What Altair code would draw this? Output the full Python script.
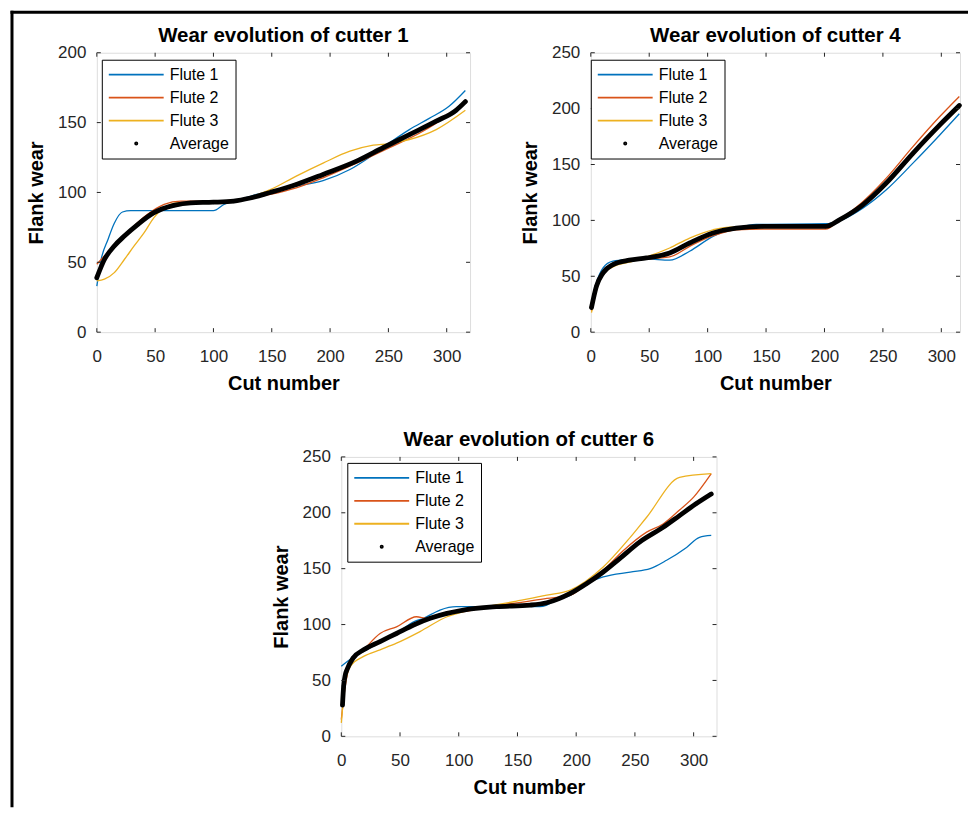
import altair as alt
import pandas as pd

SERIES = ["Flute 1", "Flute 2", "Flute 3", "Average"]
COLORS = ["#0072BD", "#D95319", "#EDB120", "#000000"]
XTICKS = [0, 50, 100, 150, 200, 250, 300]
FONT = "Liberation Sans"

# ---- cutter 1 ----
c1_f1_x = [0, 3.7, 9.4, 15, 22, 29, 100, 109, 123, 137, 149, 171, 194, 217, 237, 251, 268, 285, 302, 316]
c1_f1_y = [33, 52, 66, 78, 86, 87, 87, 91.4, 95, 98.6, 101, 104.5, 108.5, 116.4, 127, 135.5, 145, 153, 161.7, 173]
c1_f2_x = [0, 6.5, 18, 29, 43.5, 57.7, 72, 100, 123, 148.7, 171, 194, 222.7, 251, 279.6, 302, 316]
c1_f2_y = [48.6, 54.5, 64, 73.6, 84.3, 91.4, 93.8, 93.8, 95, 98.6, 103.3, 110.5, 121, 132, 143.8, 155.7, 164]
c1_f3_x = [0, 6.5, 15, 23.6, 32, 40.6, 49, 57.7, 69, 100, 123, 148.7, 171, 194, 217, 237, 251, 268, 291, 316]
c1_f3_y = [36.7, 37.9, 42.6, 52, 61.7, 71.2, 82, 89, 92.6, 93.3, 95, 102, 111.7, 121, 129.5, 133.8, 135, 137.9, 145, 158.8]
c1_av_x = [0, 6.5, 15, 23.6, 35, 49, 66, 80.5, 100, 117.4, 131.6, 148.7, 171, 194, 222.7, 245.4, 268, 291, 308, 316]
c1_av_y = [39, 52, 61.7, 68.8, 77, 85.5, 90.7, 92.6, 93, 93.8, 96, 100, 105.7, 112.9, 122.4, 132, 141.4, 151, 158.8, 165]

# ---- cutter 4 ----
c4_f1_x = [0.6, 4.8, 10.5, 19, 33, 47.6, 67.5, 84.6, 104.6, 124.5, 141.6, 201, 212.8, 232.8, 252.7, 275.5, 298.3, 315.4]
c4_f1_y = [26.4, 44, 57.5, 63.5, 65, 65.5, 64.4, 72.4, 85.7, 93.1, 96.4, 97, 99.6, 111, 127.2, 151, 176, 195.4]
c4_f2_x = [0.6, 4.8, 10.5, 19, 33, 47.6, 67.5, 84.6, 104.6, 124.5, 147, 201, 212.8, 232.8, 252.7, 275.5, 298.3, 315.4]
c4_f2_y = [19, 41, 54.6, 60.5, 65, 65.5, 67.3, 76.8, 86.3, 91.6, 92.2, 92.2, 100.5, 116.8, 137.6, 165.8, 192.5, 210.9]
c4_f3_x = [0.6, 4.8, 10.5, 19, 33, 47.6, 67.5, 84.6, 104.6, 118.8, 201, 212.8, 232.8, 252.7, 275.5, 298.3, 315.4]
c4_f3_y = [17.5, 36.8, 51.6, 58.4, 62.6, 67.3, 75.3, 84.2, 91.6, 94, 94, 100, 113.9, 132.6, 159.3, 183.6, 200.8]
c4_av_x = [0.6, 4.8, 10.5, 19, 33, 47.6, 67.5, 84.6, 104.6, 124.5, 147, 201, 212.8, 232.8, 252.7, 275.5, 298.3, 315.4]
c4_av_y = [22, 41, 53, 60.5, 64.4, 66.4, 70.9, 79.8, 88.7, 93.1, 94.6, 94.6, 100.5, 113.9, 133.2, 159.8, 185, 202.8]

# ---- cutter 6 ----
c6_f1_x = [0, 4, 9, 19, 33, 47, 62, 70, 84, 98, 118, 146.5, 169, 175, 183, 195, 209, 223, 246, 263, 277, 294, 305, 315]
c6_f1_y = [62.6, 66, 70, 76, 84, 92, 102.6, 105.6, 113, 116, 116, 116.5, 116, 117.4, 122, 126, 136.7, 142.6, 147, 150, 157.5, 169, 178, 179.7]
c6_f2_x = [0, 3.4, 7.7, 19, 33, 47, 64, 73, 90, 104, 124, 146.5, 175, 195, 209, 226, 240, 260, 274, 288, 300, 315]
c6_f2_y = [15, 45, 65.5, 77.4, 92, 98, 107, 105.6, 110, 111.5, 116, 119, 123.4, 126.3, 136.7, 151.5, 166, 182.7, 190, 202.5, 214, 235]
c6_f3_x = [0, 3.4, 7.7, 19, 33, 47, 67, 90, 104, 146.5, 175, 195, 223, 246, 260, 288, 315]
c6_f3_y = [12, 48, 62.6, 71.5, 77.4, 83.3, 93.7, 107, 111.5, 120.4, 126.3, 130.8, 151.5, 178, 196, 231.6, 235]
c6_av_x = [1, 2, 3.4, 5, 10, 19, 33, 47, 61.5, 75.7, 90, 104, 132, 160.7, 175, 195, 209, 223, 237, 254, 274, 288, 302, 315]
c6_av_y = [28, 45, 55, 60, 70, 77.4, 84.8, 92, 99.6, 105.6, 110, 113, 116, 117.4, 119.5, 127.8, 136.7, 147, 159, 173.8, 187, 197.5, 208, 216.8]


def make_df(xs_list, ys_list):
    rows = []
    for name, xs, ys in zip(SERIES, xs_list, ys_list):
        for x, y in zip(xs, ys):
            rows.append({"series": name, "cut": x, "wear": y})
    return pd.DataFrame(rows)


def panel(df, title, xmax, ymax, yticks, lx, ly, width):
    height = 280
    legend = alt.Legend(
        orient="none", legendX=lx, legendY=ly, title=None,
        fillColor="white", strokeColor="#000000", padding=6,
        labelFont=FONT, labelFontSize=16, labelColor="#000000", labelOffset=5,
        symbolStrokeWidth=1.8, symbolFillColor="#000000", symbolOpacity=1,
        rowPadding=5, clipHeight=18, labelLimit=300,
    )
    x = alt.X("cut:Q", scale=alt.Scale(domain=[0, xmax], nice=False, zero=False),
              axis=alt.Axis(values=XTICKS, title="Cut number", titleFont=FONT, titleFontSize=20,
                            titleFontWeight="bold", titleColor="#000000", labelFont=FONT,
                            labelFontSize=17, labelColor="#262626", ticks=False, tickSize=0,
                            domain=False, grid=False, labelPadding=16, titlePadding=9,
                            labelFlush=False, labelOverlap=False))
    y = alt.Y("wear:Q", scale=alt.Scale(domain=[0, ymax], nice=False),
              axis=alt.Axis(values=yticks, title="Flank wear", titleFont=FONT, titleFontSize=20,
                            titleFontWeight="bold", titleColor="#000000", labelFont=FONT,
                            labelFontSize=17, labelColor="#262626", ticks=False, tickSize=0,
                            domain=False, grid=False, labelPadding=11, titlePadding=11,
                            labelFlush=False, labelOverlap=False))
    color = alt.Color("series:N", scale=alt.Scale(domain=SERIES, range=COLORS), legend=legend)
    shape = alt.Shape("series:N", scale=alt.Scale(domain=SERIES, range=["stroke", "stroke", "stroke", "circle"]),
                      legend=legend)
    size = alt.Size("series:N", scale=alt.Scale(type="ordinal", domain=SERIES, range=[3025, 3025, 3025, 5]),
                    legend=legend)
    base = alt.Chart(df).encode(x=x, y=y)
    pts = base.transform_filter(alt.datum.series == "Average").mark_point(
        filled=False, strokeWidth=1.8).encode(color=color, shape=shape, size=size)
    flutes = base.transform_filter(alt.datum.series != "Average").mark_line(
        strokeWidth=1.3, interpolate="monotone").encode(color=color)
    avg = base.transform_filter(alt.datum.series == "Average").mark_line(
        strokeWidth=4.8, interpolate="monotone", strokeCap="round").encode(color=color)

    # small inward tick marks on all four sides (MATLAB box style)
    xt = pd.DataFrame({"cut": [t for t in XTICKS if t <= xmax]})
    yt = pd.DataFrame({"wear": yticks})
    tk = dict(color="#262626", strokeWidth=1)
    xt_bot = alt.Chart(xt).mark_rule(**tk).encode(x=x, y=alt.value(height), y2=alt.value(height - 4))
    xt_top = alt.Chart(xt).mark_rule(**tk).encode(x=x, y=alt.value(0), y2=alt.value(4))
    yt_left = alt.Chart(yt).mark_rule(**tk).encode(y=y, x=alt.value(0), x2=alt.value(4))
    yt_right = alt.Chart(yt).mark_rule(**tk).encode(y=y, x=alt.value(width), x2=alt.value(width - 4))

    return alt.layer(pts, flutes, avg, xt_bot, xt_top, yt_left, yt_right).properties(
        width=width, height=height,
        title=alt.TitleParams(text=title, font=FONT, fontSize=20.5, fontWeight="bold",
                              color="#000000", anchor="middle", frame="group",
                              baseline="alphabetic", offset=-18.5),
    )


df1 = make_df([c1_f1_x, c1_f2_x, c1_f3_x, c1_av_x], [c1_f1_y, c1_f2_y, c1_f3_y, c1_av_y])
df4 = make_df([c4_f1_x, c4_f2_x, c4_f3_x, c4_av_x], [c4_f1_y, c4_f2_y, c4_f3_y, c4_av_y])
df6 = make_df([c6_f1_x, c6_f2_x, c6_f3_x, c6_av_x], [c6_f1_y, c6_f2_y, c6_f3_y, c6_av_y])

p1 = panel(df1, "Wear evolution of cutter 1", 320, 200, [0, 50, 100, 150, 200], 5, 7, 374)
p2 = panel(df4, "Wear evolution of cutter 4", 316, 250, [0, 50, 100, 150, 200, 250], 0, 7, 370)
p3 = panel(df6, "Wear evolution of cutter 6", 319.5, 250, [0, 50, 100, 150, 200, 250], 6, 6, 376)

one = pd.DataFrame({"f": [0]})
# empty grid cell of the top row
blank_top = alt.Chart(one).mark_point(opacity=0).encode(
    x=alt.value(0), y=alt.value(0)).properties(
    width=379, height=10, view=alt.ViewBackground(stroke="transparent"))
# empty grid cell of the bottom row, carrying the outer frame lines of the figure
hline = alt.Chart(one).mark_rule(color="#000000", strokeWidth=3).encode(
    x=alt.value(-86.5), x2=alt.value(873), y=alt.value(-445.5))
vline = alt.Chart(one).mark_rule(color="#000000", strokeWidth=3).encode(
    x=alt.value(-85), y=alt.value(-447), y2=alt.value(351))
blank_bottom = alt.layer(hline, vline).properties(
    width=10, height=10, view=alt.ViewBackground(stroke="transparent"))

chart = alt.concat(
    p1, blank_top, p2, blank_bottom, p3, columns=3,
    spacing={"row": 125, "column": -129}, align="none", bounds="flush",
).resolve_scale(color="independent", shape="independent", size="independent").resolve_legend(
    color="independent", shape="independent", size="independent"
).properties(
    padding=0
).configure_view(stroke="#262626", strokeWidth=1).configure(background="white")

chart.save("out.html", embed_options={"renderer": "svg", "actions": False})
